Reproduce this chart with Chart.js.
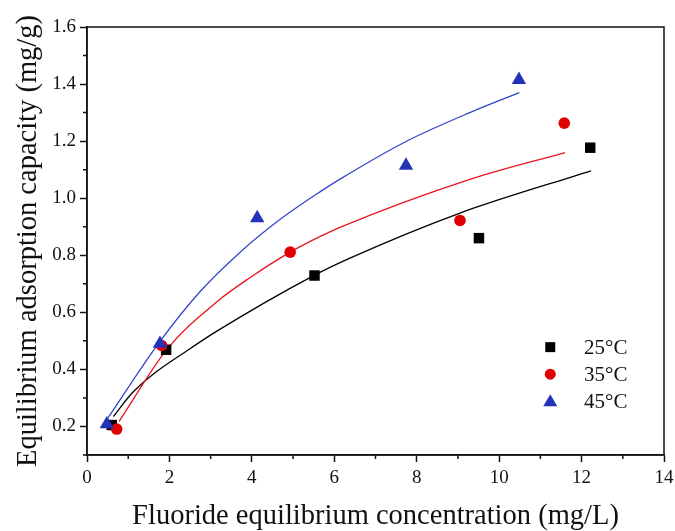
<!DOCTYPE html>
<html>
<head>
<meta charset="utf-8">
<script src="https://cdn.jsdelivr.net/npm/chart.js@4.4.0/dist/chart.umd.min.js"></script>
<style>
    html, body { margin: 0; padding: 0; background: #fff; }
    #wrap { width: 675px; height: 531px; }
</style>
</head>
<body>
<div id="wrap"><canvas id="isothermChart"></canvas></div>
<script>
// measured adsorption points (Ce in mg/L, qe in mg/g)
const conc25 = [0.60, 1.92, 5.52, 9.51, 12.21];
const qe25   = [0.205, 0.469, 0.729, 0.860, 1.177];
const conc35 = [0.72, 1.81, 4.93, 9.05, 11.58];
const qe35   = [0.191, 0.484, 0.811, 0.922, 1.263];
const conc45 = [0.48, 1.77, 4.13, 7.74, 10.48];
const qe45   = [0.208, 0.490, 0.930, 1.114, 1.415];

// fitted curves, points
const fitConc25 = [0.64, 1.10, 1.62, 2.40, 3.16, 5.49, 6.38, 9.05, 12.23];
const fitQe25   = [0.235, 0.318, 0.385, 0.463, 0.535, 0.728, 0.790, 0.948, 1.096];
const fitConc35 = [0.78, 1.94, 3.16, 3.96, 4.93, 5.66, 6.14, 9.29, 11.60];
const fitQe35   = [0.218, 0.470, 0.638, 0.722, 0.811, 0.866, 0.898, 1.066, 1.160];
const fitConc45 = [0.50, 1.74, 2.74, 3.71, 4.68, 5.66, 6.14, 7.73, 9.29, 10.49];
const fitQe45   = [0.228, 0.492, 0.672, 0.810, 0.925, 1.023, 1.067, 1.198, 1.300, 1.370];

const seriesLabels = ['25°C', '35°C', '45°C'];
const xMinorTicks = [1, 3, 5, 7, 9, 11, 13];
const yMinorTicks = [0.1, 0.3, 0.5, 0.7, 0.9, 1.1, 1.3, 1.5];

const BLACK = '#000000';
const RED = '#e00000';
const BLUE = '#2233b8';
const FONT = '"Liberation Serif", "Times New Roman", serif';

function pts(xs, ys) {
    return xs.map((x, i) => ({ x: x, y: ys[i] }));
}

function fitLine(xs, ys, color, order) {
    return {
        data: pts(xs, ys),
        showLine: true,
        borderColor: color,
        borderWidth: 1.3,
        pointRadius: 0,
        cubicInterpolationMode: 'monotone',
        fill: false,
        order: order
    };
}

function markers(xs, ys, label, color, style, radius, order) {
    return {
        label: label,
        data: pts(xs, ys),
        showLine: false,
        pointStyle: style,
        pointRadius: radius,
        pointBackgroundColor: color,
        pointBorderColor: color,
        pointBorderWidth: 0,
        order: order
    };
}

// box frame, minor ticks and the inside legend
const framePlugin = {
    id: 'framePlugin',
    afterDraw(chart) {
        const ctx = chart.ctx;
        const a = chart.chartArea;
        const xs = chart.scales.x;
        const ys = chart.scales.y;
        ctx.save();
        ctx.strokeStyle = '#111';
        ctx.lineWidth = 1.5;
        ctx.strokeRect(a.left, a.top, a.right - a.left, a.bottom - a.top);

        ctx.beginPath();
        xMinorTicks.forEach(v => {
            const px = xs.getPixelForValue(v);
            ctx.moveTo(px, a.bottom);
            ctx.lineTo(px, a.bottom + 4);
        });
        yMinorTicks.forEach(v => {
            const py = ys.getPixelForValue(v);
            ctx.moveTo(a.left, py);
            ctx.lineTo(a.left - 4, py);
        });
        ctx.stroke();

        // legend
        const legendX = xs.getPixelForValue(11.24);
        const textX = xs.getPixelForValue(12.06);
        const legendY0 = ys.getPixelForValue(0.478);
        const step = 27;
        const styles = [
            { color: BLACK, shape: 'rect' },
            { color: RED, shape: 'circle' },
            { color: BLUE, shape: 'triangle' }
        ];
        ctx.font = '21px ' + FONT;
        ctx.textBaseline = 'middle';
        ctx.textAlign = 'left';
        styles.forEach((s, i) => {
            const cy = legendY0 + i * step;
            ctx.fillStyle = s.color;
            ctx.beginPath();
            if (s.shape === 'rect') {
                ctx.rect(legendX - 5, cy - 5, 10, 10);
            } else if (s.shape === 'circle') {
                ctx.arc(legendX, cy, 5.5, 0, Math.PI * 2);
            } else {
                ctx.moveTo(legendX, cy - 7);
                ctx.lineTo(legendX + 7, cy + 5);
                ctx.lineTo(legendX - 7, cy + 5);
                ctx.closePath();
            }
            ctx.fill();
            ctx.fillStyle = '#111';
            ctx.fillText(seriesLabels[i], textX, cy + 1);
        });
        ctx.restore();
    }
};

const ctx = document.getElementById('isothermChart').getContext('2d');

new Chart(ctx, {
    type: 'scatter',
    data: {
        datasets: [
            markers(conc45, qe45, seriesLabels[2], BLUE, 'triangle', 8.3, 1),
            markers(conc35, qe35, seriesLabels[1], RED, 'circle', 5.8, 2),
            markers(conc25, qe25, seriesLabels[0], BLACK, 'rect', 7.4, 3),
            fitLine(fitConc45, fitQe45, '#3346cc', 4),
            fitLine(fitConc35, fitQe35, '#e8141e', 5),
            fitLine(fitConc25, fitQe25, BLACK, 6)
        ]
    },
    options: {
        responsive: true,
        maintainAspectRatio: false,
        animation: false,
        layout: { padding: { top: 27, right: 11, left: 0, bottom: 0 } },
        scales: {
            x: {
                type: 'linear',
                min: 0,
                max: 14,
                border: { display: true, color: '#111', width: 1.5 },
                grid: {
                    drawOnChartArea: false,
                    drawTicks: true,
                    tickLength: 7,
                    tickWidth: 1.5,
                    tickColor: '#111'
                },
                ticks: {
                    stepSize: 2,
                    color: '#111',
                    padding: 5,
                    maxRotation: 0,
                    font: { family: FONT, size: 19 }
                },
                title: {
                    display: true,
                    text: 'Fluoride equilibrium concentration (mg/L)',
                    color: '#111',
                    font: { family: FONT, size: 28.5 },
                    padding: { top: 6, bottom: -3 }
                },
                afterFit(scale) {
                    scale.height = 76;
                    scale.paddingRight = 0;
                    scale.paddingLeft = 0;
                }
            },
            y: {
                type: 'linear',
                min: 0.1,
                max: 1.6,
                border: { display: true, color: '#111', width: 1.5 },
                grid: {
                    drawOnChartArea: false,
                    drawTicks: true,
                    tickLength: 7,
                    tickWidth: 1.5,
                    tickColor: ctx => (Math.round(ctx.tick.value * 10) % 2 === 0 ? '#111' : 'rgba(0,0,0,0)')
                },
                ticks: {
                    stepSize: 0.1,
                    color: '#111',
                    padding: 4,
                    font: { family: FONT, size: 19 },
                    callback: v => (Math.round(v * 10) % 2 === 0 ? v.toFixed(1) : '')
                },
                title: {
                    display: true,
                    text: 'Equilibrium adsorption capacity (mg/g)',
                    color: '#111',
                    font: { family: FONT, size: 28.5 },
                    padding: { top: 11, bottom: 0 }
                },
                afterFit(scale) { scale.width = 87; }
            }
        },
        plugins: {
            legend: { display: false },
            tooltip: { enabled: false }
        }
    },
    plugins: [framePlugin]
});
</script>
</body>
</html>
